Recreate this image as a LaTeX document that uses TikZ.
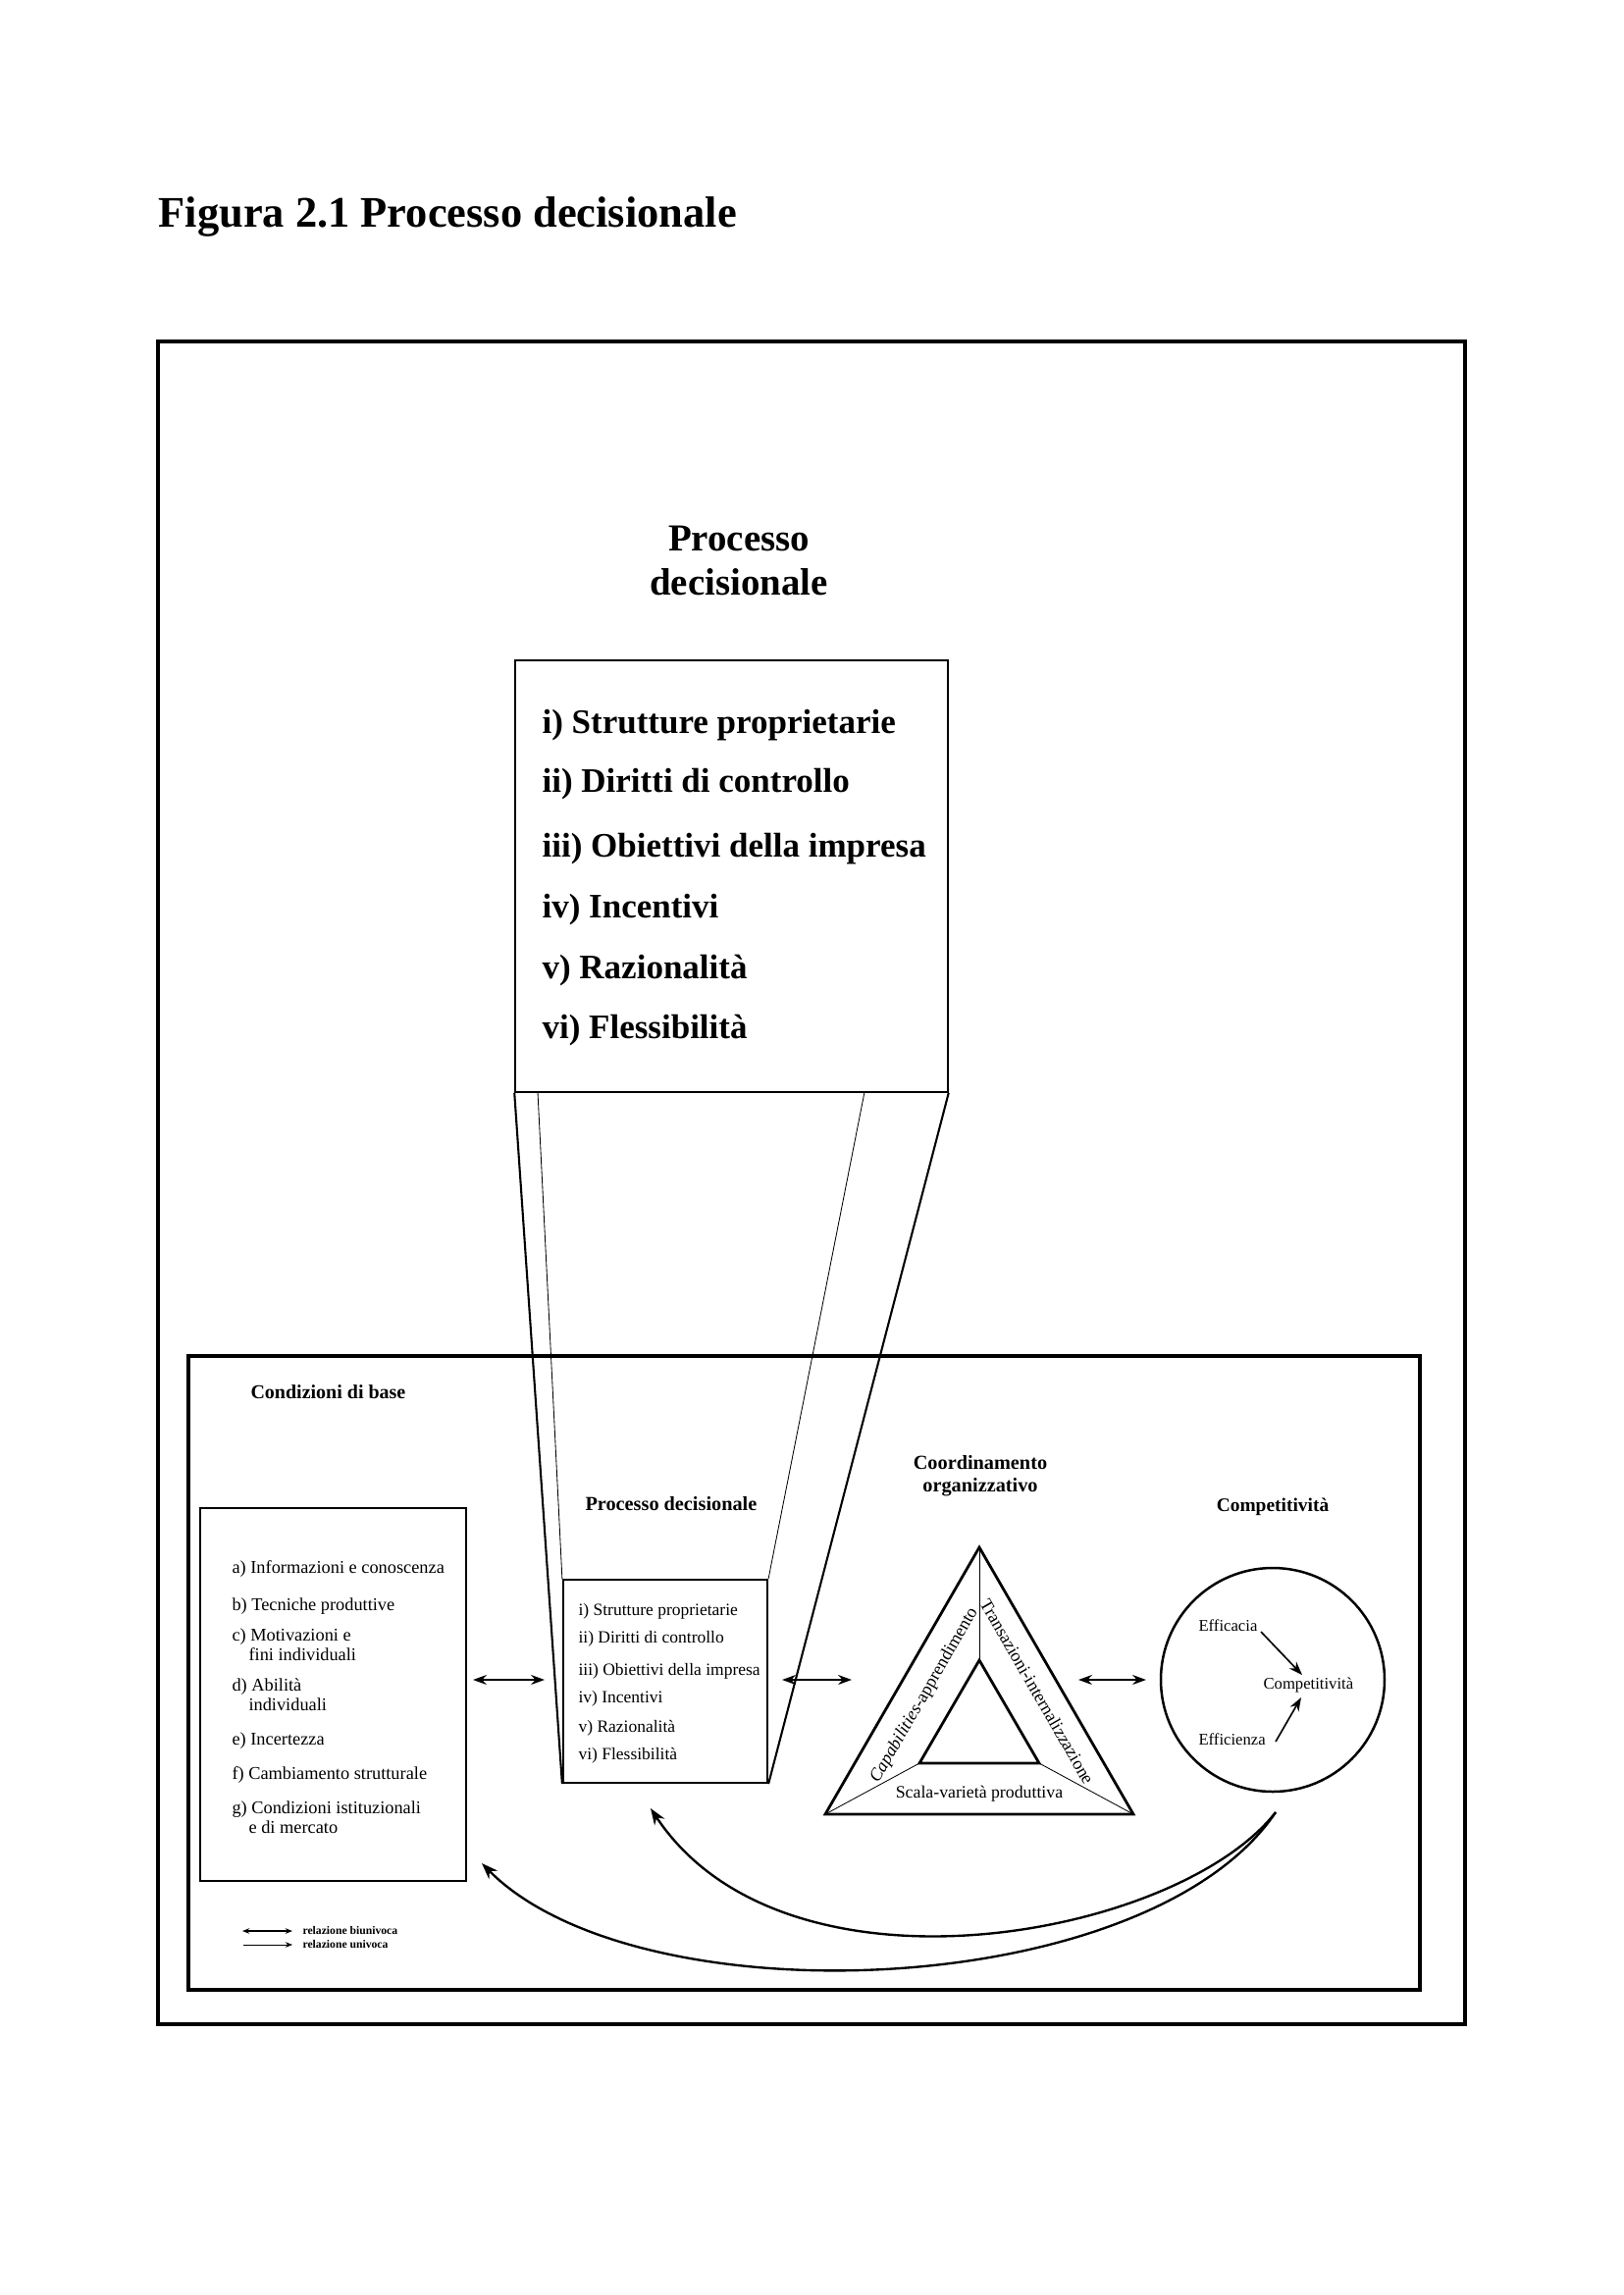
\documentclass[tikz,border=0pt]{standalone}
\usepackage{fontspec}
\setmainfont{Liberation Serif}
\usetikzlibrary{arrows.meta}
\newcommand\fsz[1]{\fontsize{#1}{#1}\selectfont}
\begin{document}
\begin{tikzpicture}[x=0.36pt,y=-0.36pt,
  frame/.style={draw,line width=1.1pt,inner sep=0pt},
  boxA/.style={draw,line width=0.55pt,inner sep=0pt},
  boxB/.style={draw,line width=0.8pt,inner sep=0pt},
  txt/.style={inner sep=0pt,anchor=base west},
  ctxt/.style={inner sep=0pt,anchor=base},
  thickproj/.style={line width=0.75pt},
  thinproj/.style={line width=0.3pt},
  tri/.style={line width=1.0pt,line join=miter},
  trithin/.style={line width=0.3pt},
  bi/.style={line width=0.6pt,{Stealth[length=5pt,width=3.6pt]}-{Stealth[length=5pt,width=3.6pt]}},
  uni/.style={line width=0.6pt,-{Stealth[length=5pt,width=3.6pt]}},
  arc/.style={line width=0.85pt,-{Stealth[length=6pt,width=4.4pt]}},
  lgbi/.style={line width=0.5pt,{Stealth[length=2.6pt,width=2pt]}-{Stealth[length=2.6pt,width=2pt]}},
  lguni/.style={line width=0.25pt,-{Stealth[length=2.6pt,width=2pt]}}]
\useasboundingbox (0,0) rectangle (1654,2339);

% title
\node[txt] (title) at (161,231) {\fsz{16}\bfseries Figura 2.1 Processo decisionale};

% outer frame
\node[frame,minimum width=1332*0.36pt,minimum height=1715*0.36pt] (outer) at (827,1205.5) {};

% upper part
\node[ctxt] (ptitle1) at (753,561) {\fsz{14}\bfseries Processo};
\node[ctxt] (ptitle2) at (753,606) {\fsz{14}\bfseries decisionale};
\node[boxA,minimum width=441*0.36pt,minimum height=440*0.36pt] (bigbox) at (745.5,893) {};
\node[txt] (b1) at (552,747) {\fsz{12.6}\bfseries i) Strutture proprietarie};
\node[txt] (b2) at (552,807) {\fsz{12.6}\bfseries ii) Diritti di controllo};
\node[txt] (b3) at (552,873) {\fsz{12.6}\bfseries iii) Obiettivi della impresa};
\node[txt] (b4) at (552,935) {\fsz{12.6}\bfseries iv) Incentivi};
\node[txt] (b5) at (552,997) {\fsz{12.6}\bfseries v) Razionalità};
\node[txt] (b6) at (552,1058) {\fsz{12.6}\bfseries vi) Flessibilità};

% lower frame
\node[frame,minimum width=1255*0.36pt,minimum height=646*0.36pt] (lower) at (819.5,1705) {};
\node[txt] (cond) at (255,1425) {\fsz{7.2}\bfseries Condizioni di base};

% left box
\node[boxB,minimum width=271*0.36pt,minimum height=380*0.36pt] (lbox) at (339.5,1727) {};
\node[txt] (la) at (236,1603) {\fsz{6.6}a) Informazioni e conoscenza};
\node[txt] (lb) at (236,1641) {\fsz{6.6}b) Tecniche produttive};
\node[txt] (lc) at (236,1672) {\fsz{6.6}c) Motivazioni e};
\node[txt] (lc2) at (253,1692) {\fsz{6.6}fini individuali};
\node[txt] (ld) at (236,1723) {\fsz{6.6}d) Abilità};
\node[txt] (ld2) at (253,1743) {\fsz{6.6}individuali};
\node[txt] (le) at (236,1778) {\fsz{6.6}e) Incertezza};
\node[txt] (lf) at (236,1813) {\fsz{6.6}f) Cambiamento strutturale};
\node[txt] (lg) at (236,1848) {\fsz{6.6}g) Condizioni istituzionali};
\node[txt] (lg2) at (253,1868) {\fsz{6.6}e di mercato};

% small box
\node[txt] (plabel) at (596,1539) {\fsz{7.3}\bfseries Processo decisionale};
\node[boxB,minimum width=208*0.36pt,minimum height=207*0.36pt] (sbox) at (678,1713.5) {};
\node[txt] (s1) at (589,1646) {\fsz{6.3}i) Strutture proprietarie};
\node[txt] (s2) at (589,1674) {\fsz{6.3}ii) Diritti di controllo};
\node[txt] (s3) at (589,1707) {\fsz{6.3}iii) Obiettivi della impresa};
\node[txt] (s4) at (589,1735) {\fsz{6.3}iv) Incentivi};
\node[txt] (s5) at (589,1765) {\fsz{6.3}v) Razionalità};
\node[txt] (s6) at (589,1793) {\fsz{6.3}vi) Flessibilità};

% projection lines
\coordinate (bl2) at (548,1113);
\coordinate (br2) at (881,1113);
\draw[thickproj] (bigbox.south west) -- (sbox.south west);
\draw[thinproj] (bl2) -- (sbox.north west);
\draw[thinproj] (br2) -- (sbox.north east);
\draw[thickproj] (bigbox.south east) -- (sbox.south east);

% triangle
\node[ctxt] (coord1) at (999,1497) {\fsz{7.3}\bfseries Coordinamento};
\node[ctxt] (coord2) at (999,1520) {\fsz{7.3}\bfseries organizzativo};
\coordinate (TA) at (998,1577);
\coordinate (TL) at (841,1849);
\coordinate (TR) at (1155,1849);
\coordinate (IA) at (998,1692);
\coordinate (IL) at (937,1797);
\coordinate (IR) at (1059,1797);
\draw[trithin] (TA) -- (IA);
\draw[trithin] (TL) -- (IL);
\draw[trithin] (TR) -- (IR);
\draw[tri] (TA) -- (TL) -- (TR) -- cycle;
\draw[tri] (IA) -- (IL) -- (IR) -- cycle;
\node[inner sep=0pt,rotate=60] (capl) at (942,1728) {\fsz{6.5}\textit{Capabilities}-apprendimento};
\node[inner sep=0pt,rotate=-60] (trl) at (1057,1724) {\fsz{6.5}Transazioni-internalizzazione};
\node[ctxt] (scala) at (998,1832) {\fsz{6.4}Scala-varietà produttiva};

% circle
\node[ctxt] (comptitle) at (1297,1540) {\fsz{7}\bfseries Competitività};
\node[draw,circle,line width=0.9pt,minimum size=228*0.36pt,inner sep=0pt] (circ) at (1297,1712) {};
\node[txt] (effa) at (1221,1662) {\fsz{6}Efficacia};
\node[txt] (comp) at (1287,1721) {\fsz{6}Competitività};
\node[txt] (effi) at (1221,1778) {\fsz{6}Efficienza};
\coordinate (ea0) at (1285,1663);
\coordinate (ea1) at (1327,1707);
\coordinate (ei0) at (1300,1775);
\coordinate (ei1) at (1326,1730);
\draw[uni] (ea0) -- (ea1);
\draw[uni] (ei0) -- (ei1);

% horizontal relation arrows
\coordinate (h1a) at (482,1712);
\coordinate (h1b) at (555,1712);
\coordinate (h2a) at (797,1712);
\coordinate (h2b) at (868,1712);
\coordinate (h3a) at (1099,1712);
\coordinate (h3b) at (1168,1712);
\draw[bi] (h1a) -- (h1b);
\draw[bi] (h2a) -- (h2b);
\draw[bi] (h3a) -- (h3b);

% feedback arcs
\coordinate (fs) at (1300,1847);
\coordinate (fe1) at (663,1843);
\coordinate (fe2) at (491,1899);
\draw[arc] (fs) .. controls (1200,1975) and (800,2050) .. (fe1);
\draw[arc] (fs) .. controls (1170,2040) and (650,2060) .. (fe2);

% legend
\coordinate (lg1a) at (247,1968);
\coordinate (lg1b) at (298,1968);
\coordinate (lg2a) at (248,1982);
\coordinate (lg2b) at (298,1982);
\draw[lgbi] (lg1a) -- (lg1b);
\draw[lguni] (lg2a) -- (lg2b);
\node[txt] (lgt1) at (308,1971) {\fsz{4.2}\bfseries relazione biunivoca};
\node[txt] (lgt2) at (308,1985) {\fsz{4.2}\bfseries relazione univoca};
\end{tikzpicture}
\end{document}
